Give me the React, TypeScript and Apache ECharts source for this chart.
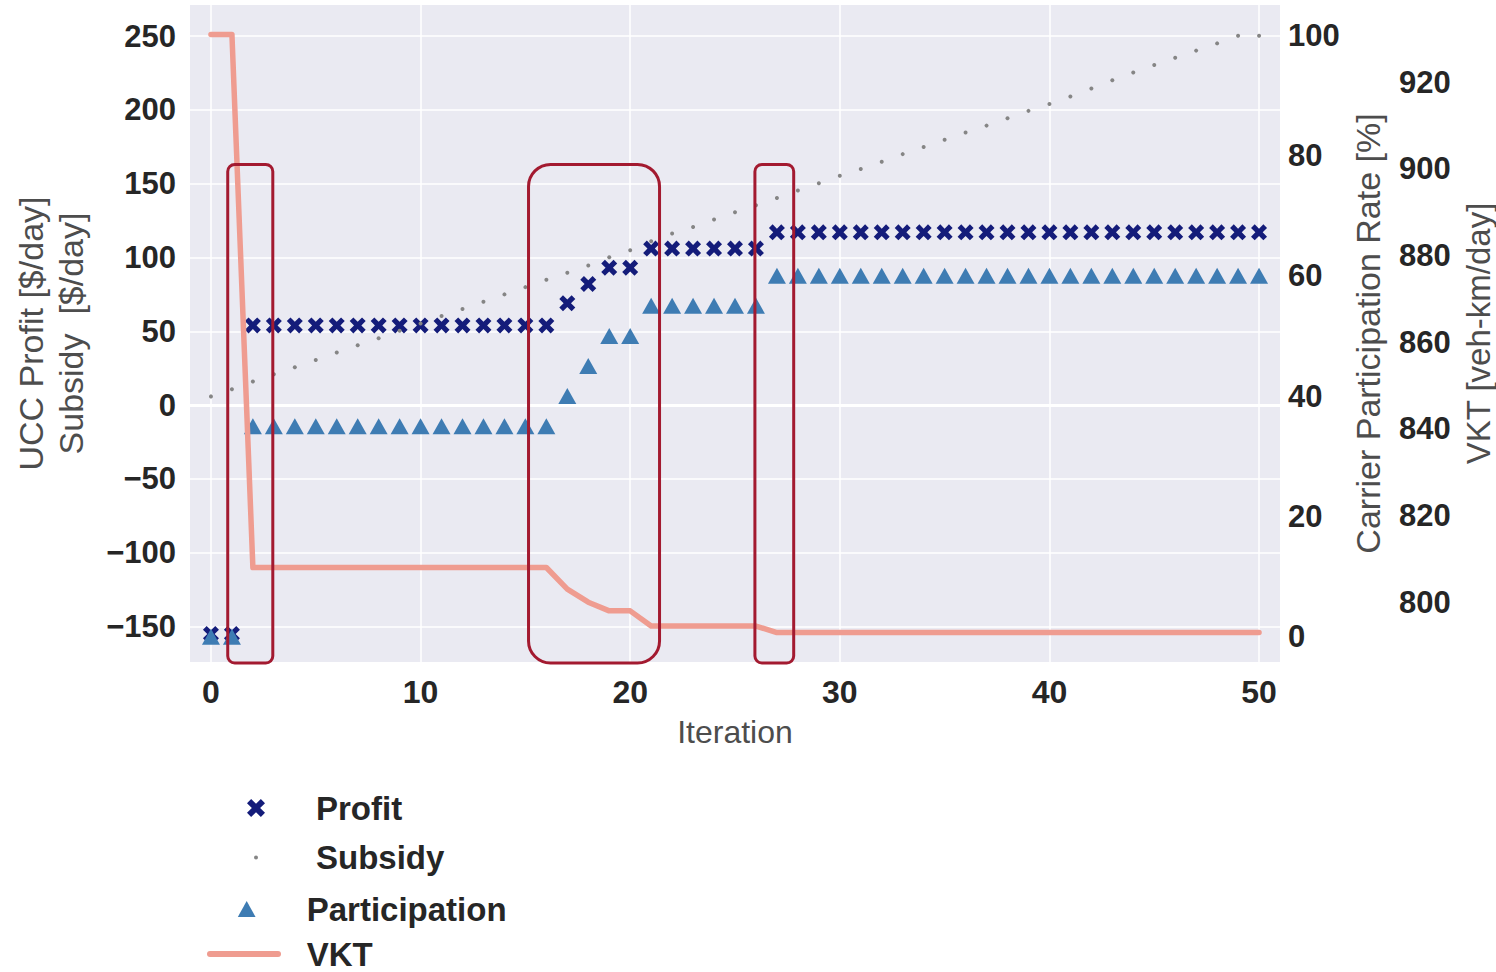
import React, { useEffect, useRef } from 'react';
import * as echarts from 'echarts';

const iterations = [
  0, 1, 2, 3, 4, 5, 6, 7, 8, 9, 10, 11, 12, 13, 14, 15, 16, 17, 18, 19, 20,
  21, 22, 23, 24, 25, 26, 27, 28, 29, 30, 31, 32, 33, 34, 35, 36, 37, 38, 39, 40,
  41, 42, 43, 44, 45, 46, 47, 48, 49, 50,
];

const profit = [
  -155, -155, 54, 54, 54, 54, 54, 54, 54, 54, 54, 54, 54, 54, 54, 54, 54, 69, 82, 93, 93,
  106, 106, 106, 106, 106, 106, 117, 117, 117, 117, 117, 117, 117, 117, 117, 117, 117, 117, 117, 117,
  117, 117, 117, 117, 117, 117, 117, 117, 117, 117,
];

const subsidy = [
  5.9, 10.8, 16.0, 20.9, 25.7, 30.6, 35.6, 40.5, 45.3, 50.3, 55.3, 60.3, 65.1, 70.0, 75.0, 79.9, 84.9,
  89.6, 94.6, 100.2, 104.9, 111.0, 116.2, 120.7, 125.7, 130.6, 135.3, 140.3, 145.3, 150.3, 155.3,
  159.9, 164.8, 170.0, 174.8, 179.7, 184.6, 189.3, 194.3, 199.3, 204.0, 209.0, 214.5, 220.0, 225.3,
  230.3, 235.3, 240.1, 245.0, 250.2, 250.2,
];

const participation = [
  0, 0, 35, 35, 35, 35, 35, 35, 35, 35, 35, 35, 35, 35, 35, 35, 35, 40, 45, 50, 50,
  55, 55, 55, 55, 55, 55, 60, 60, 60, 60, 60, 60, 60, 60, 60, 60, 60, 60, 60, 60,
  60, 60, 60, 60, 60, 60, 60, 60, 60, 60,
];

const vkt = [
  931, 931, 808, 808, 808, 808, 808, 808, 808, 808, 808, 808, 808, 808, 808, 808, 808, 803, 800, 798, 798,
  794.5, 794.5, 794.5, 794.5, 794.5, 794.5, 793, 793, 793, 793, 793, 793, 793, 793, 793, 793, 793, 793, 793, 793,
  793, 793, 793, 793, 793, 793, 793, 793, 793, 793,
];

const xTicks = [0, 10, 20, 30, 40, 50];
const leftTicks = [-150, -100, -50, 0, 50, 100, 150, 200, 250];
const rateTicks = [0, 20, 40, 60, 80, 100];
const vktTicks = [800, 820, 840, 860, 880, 900, 920];

const X_RANGE = [-1, 51];
const LEFT_RANGE = [-174, 271];
const RATE_RANGE = [-4.2, 105];
const VKT_RANGE = [786.2, 937.8];

// highlighted iteration ranges (data units) and top of the boxes (left-axis units)
const highlightRanges = [
  [0.8, 2.95],
  [15.15, 21.4],
  [25.95, 27.8],
];
const highlightTop = 163;

const FONT = "'Liberation Sans', Arial, Helvetica, sans-serif";
const X_PATH = 'path://M0,2.3 L2.3,0 L5,2.7 L7.7,0 L10,2.3 L7.3,5 L10,7.7 L7.7,10 L5,7.3 L2.3,10 L0,7.7 L2.7,5 Z';
const TRI_PATH = 'path://M5,0 L10,9 L0,9 Z';
const DOT_PATH = 'path://M5,0 A5,5 0 1 1 5,10 A5,5 0 1 1 5,0 Z';
const BAR_PATH = 'path://M3,0 L71,0 A3,3 0 0 1 71,6 L3,6 A3,3 0 0 1 3,0 Z';

const NAVY = '#141c7a';
const STEEL = '#3e7cb3';
const GREY = '#858585';
const SALMON = '#ef9c90';

const minusFmt = (v: number) => (v < 0 ? '\u2212' + Math.abs(v) : String(v));

export default function App() {
  const ref = useRef<HTMLDivElement>(null);

  useEffect(() => {
    const chart = echarts.init(ref.current!, null, { renderer: 'svg' });

    const legendText = { fontSize: 33, fontWeight: 'bold', color: '#262626', fontFamily: FONT, lineHeight: 28 };
    const mkLegend = (name: string, icon: string, left: number, top: number, w: number, h: number, color: string) => ({
      data: [{ name, icon, itemStyle: { color, borderWidth: 0, opacity: 1 } }],
      orient: 'vertical',
      left,
      top,
      padding: 0,
      itemWidth: w,
      itemHeight: h,
      selectedMode: false,
      textStyle: legendText,
    });

    const titleStyle = { fontSize: 34, lineHeight: 34, color: '#4d4d4d', fontFamily: FONT };

    const option = {
      animation: false,
      backgroundColor: '#ffffff',
      grid: {
        left: 190,
        top: 5,
        width: 1090,
        height: 657,
        show: true,
        backgroundColor: '#eaeaf2',
        borderWidth: 0,
        containLabel: false,
        outerBoundsMode: 'none',
      },
      legend: [
        mkLegend('Profit', X_PATH, 247, 791.5, 110, 18, NAVY),
        mkLegend('Subsidy', DOT_PATH, 254, 841, 110, 4, GREY),
        mkLegend('Participation', TRI_PATH, 237.8, 892.5, 110, 16, STEEL),
        mkLegend('VKT', BAR_PATH, 207, 937.5, 115.4, 6, SALMON),
      ],
      xAxis: {
        type: 'value',
        min: X_RANGE[0],
        max: X_RANGE[1],
        name: 'Iteration',
        nameLocation: 'middle',
        nameGap: 54,
        nameTextStyle: { fontSize: 32, color: '#4d4d4d', fontFamily: FONT },
        axisLine: { show: false },
        axisTick: { show: false, customValues: xTicks },
        axisLabel: {
          customValues: xTicks,
          margin: 14,
          fontSize: 32,
          fontWeight: 'bold',
          color: '#262626',
          fontFamily: FONT,
        },
        splitLine: { show: true, lineStyle: { color: '#ffffff', width: 1.5 } },
      },
      yAxis: [
        {
          type: 'value',
          position: 'left',
          min: LEFT_RANGE[0],
          max: LEFT_RANGE[1],
          name: 'UCC Profit [$/day]\nSubsidy  [$/day]',
          nameLocation: 'middle',
          nameRotate: 90,
          nameGap: 99,
          nameTextStyle: { fontSize: 34, lineHeight: 40, color: '#4d4d4d', fontFamily: FONT },
          axisLine: { show: false },
          axisTick: { show: false, customValues: leftTicks },
          axisLabel: {
            customValues: leftTicks,
            margin: 14,
            fontSize: 31,
            fontWeight: 'bold',
            color: '#262626',
            fontFamily: FONT,
            formatter: minusFmt,
          },
          splitLine: { show: true, lineStyle: { color: '#ffffff', width: 1.5 } },
        },
        {
          type: 'value',
          position: 'right',
          min: RATE_RANGE[0],
          max: RATE_RANGE[1],
          name: 'Carrier Participation Rate [%]',
          nameLocation: 'middle',
          nameRotate: 90,
          nameGap: 66,
          nameTextStyle: titleStyle,
          axisLine: { show: false },
          axisTick: { show: false, customValues: rateTicks },
          axisLabel: {
            customValues: rateTicks,
            margin: 8,
            fontSize: 31,
            fontWeight: 'bold',
            color: '#262626',
            fontFamily: FONT,
          },
          splitLine: { show: false },
        },
        {
          type: 'value',
          position: 'right',
          offset: 111,
          min: VKT_RANGE[0],
          max: VKT_RANGE[1],
          name: 'VKT [veh-km/day]',
          nameLocation: 'middle',
          nameRotate: 90,
          nameGap: 60,
          nameTextStyle: { ...titleStyle, fontSize: 33 },
          axisLine: { show: false },
          axisTick: { show: false, customValues: vktTicks },
          axisLabel: {
            customValues: vktTicks,
            margin: 8,
            fontSize: 31,
            fontWeight: 'bold',
            color: '#262626',
            fontFamily: FONT,
          },
          splitLine: { show: false },
        },
      ],
      series: [
        {
          name: 'Profit',
          type: 'scatter',
          yAxisIndex: 0,
          symbol: X_PATH,
          symbolSize: 16,
          itemStyle: { color: NAVY, opacity: 1 },
          data: iterations.map((it, i) => [it, profit[i]]),
          z: 3,
          markLine: {
            silent: true,
            symbol: 'none',
            label: { show: false },
            lineStyle: { color: '#ffffff', width: 3, type: 'solid', opacity: 1 },
            data: [{ yAxis: 0 }],
            z: 1,
          },
        },
        {
          name: 'Subsidy',
          type: 'scatter',
          yAxisIndex: 0,
          symbol: 'circle',
          symbolSize: 4,
          itemStyle: { color: GREY, opacity: 1 },
          data: iterations.map((it, i) => [it, subsidy[i]]),
          z: 3,
        },
        {
          name: 'Participation',
          type: 'scatter',
          yAxisIndex: 1,
          symbol: 'triangle',
          symbolSize: [18, 16],
          itemStyle: { color: STEEL, opacity: 1 },
          data: iterations.map((it, i) => [it, participation[i]]),
          z: 4,
        },
        {
          name: 'VKT',
          type: 'line',
          yAxisIndex: 2,
          showSymbol: false,
          symbol: 'none',
          itemStyle: { color: SALMON },
          lineStyle: { color: SALMON, width: 5.5, cap: 'round', join: 'round' },
          data: iterations.map((it, i) => [it, vkt[i]]),
          z: 5,
        },
      ],
    };

    chart.setOption(option as any);

    const yTop = chart.convertToPixel({ yAxisIndex: 0 }, highlightTop) as number;
    const yBottom = chart.convertToPixel({ yAxisIndex: 0 }, LEFT_RANGE[0]) as number;
    const radii = [7, 22, 7];
    const boxes = highlightRanges.map(([a, b], i) => {
      const x0 = chart.convertToPixel({ xAxisIndex: 0 }, a) as number;
      const x1 = chart.convertToPixel({ xAxisIndex: 0 }, b) as number;
      return {
        type: 'rect',
        z: 100,
        silent: true,
        shape: { x: x0, y: yTop, width: x1 - x0, height: yBottom - yTop + 1, r: radii[i] },
        style: { fill: 'none', stroke: '#a31a30', lineWidth: 3 },
      };
    });
    chart.setOption({ graphic: boxes } as any);

    return () => chart.dispose();
  }, []);

  return <div ref={ref} style={{ position: 'fixed', left: 0, top: 0, width: 1496, height: 972 }} />;
}
